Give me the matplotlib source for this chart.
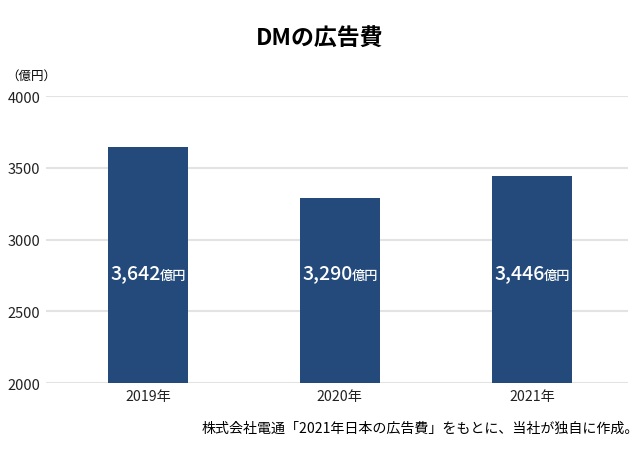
import matplotlib
matplotlib.use("Agg")
import matplotlib.pyplot as plt

plt.rcParams['font.family'] = ['Noto Sans CJK JP', 'DejaVu Sans']

years = ['2019年', '2020年', '2021年']
values = [3642, 3290, 3446]
value_labels = ['3,642', '3,290', '3,446']
yticks = [2000, 2500, 3000, 3500, 4000]

bar_color = '#244a7c'

fig = plt.figure(figsize=(6.4, 4.6), dpi=100)
ax = fig.add_axes([0.072, 0.165, 0.909, 0.624])

x = range(len(years))
ax.bar(x, values, width=0.42, color=bar_color, zorder=3)

for i, lab in enumerate(value_labels):
    ax.annotate(lab, (i, 2770), xytext=(9, 0), textcoords='offset points',
                ha='right', va='center', color='white', fontsize=14,
                fontweight='medium', zorder=4)
    ax.annotate('億円', (i, 2750), xytext=(9, 0), textcoords='offset points',
                ha='left', va='center', color='white', fontsize=9.5,
                fontweight='medium', zorder=4)

ax.set_xlim(-0.53, 2.5)
ax.set_ylim(2000, 4000)
ax.set_yticks(yticks)
ax.set_yticklabels([str(t) for t in yticks], fontsize=10.5)
ax.set_xticks(list(x))
ax.set_xticklabels(years, fontsize=10.2)
ax.grid(axis='y', color='#e3e3e3', linewidth=1.5, zorder=0)
for s in ax.spines.values():
    s.set_visible(False)
ax.tick_params(axis='both', length=0, colors='#222222')
ax.tick_params(axis='y', pad=4)
ax.tick_params(axis='x', pad=4)

fig.text(0.5, 0.915, 'DMの広告費', ha='center', va='center', fontsize=16.5, fontweight='bold')
fig.text(0.01, 0.835, '（億円）', ha='left', va='center', fontsize=9)
fig.text(0.999, 0.068, '株式会社電通「2021年日本の広告費」をもとに、当社が独自に作成。',
         ha='right', va='center', fontsize=10.1)

fig.savefig('out.png', dpi=100)
